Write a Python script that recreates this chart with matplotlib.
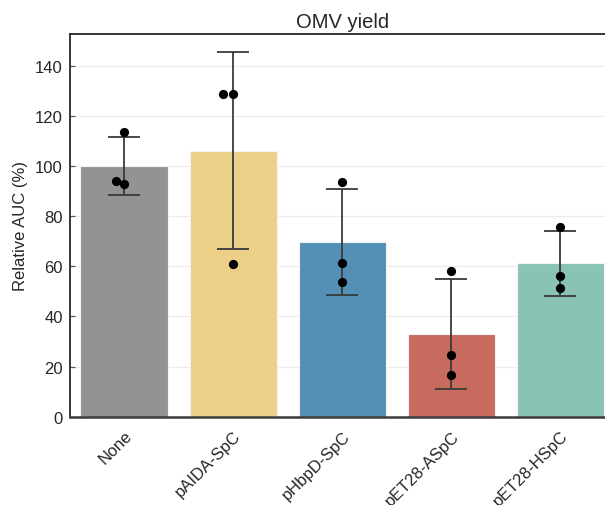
import numpy as np
import matplotlib
matplotlib.use("Agg")
import matplotlib.pyplot as plt

plt.rcParams['font.family'] = ['Liberation Sans', 'DejaVu Sans']

# per-replicate relative AUC values (%)
strains = ['None', 'pAIDA-SpC', 'pHbpD-SpC', 'pET28-ASpC', 'pET28-HSpC']
rep_none = [113.5, 94.0, 92.8]
rep_paida = [128.8, 128.5, 60.7]
rep_phbpd = [93.7, 61.2, 53.8]
rep_pet28a = [58.0, 24.6, 16.6]
rep_pet28h = [75.7, 56.2, 51.4]
replicates = [rep_none, rep_paida, rep_phbpd, rep_pet28a, rep_pet28h]
# horizontal jitter of the dots (category units)
jitter = [[0.0, -0.075, 0.0], [-0.09, 0.0, 0.0], [0, 0, 0], [0, 0, 0], [0, 0, 0]]

colors = ['#939393', '#ECD087', '#548FB6', '#C66B5E', '#88C3B4']

means = [np.mean(r) for r in replicates]
sds = [np.std(r, ddof=1) for r in replicates]

fig = plt.figure(figsize=(6.05, 5.06), dpi=100)
ax = fig.add_axes([0.115, 0.1745, 0.9015, 0.7563])

x = np.arange(len(strains))
ax.bar(x, means, width=0.8, color=colors, edgecolor='#f4f4f4', linewidth=0.8, zorder=2)
ax.errorbar(x, means, yerr=sds, fmt='none', ecolor='#3a3a3a', elinewidth=1.3,
            capsize=11.5, capthick=1.3, zorder=3)
for i, r in enumerate(replicates):
    ax.scatter(x[i] + np.array(jitter[i]), r, s=44, color='black', zorder=4, linewidths=0)

ax.set_xlim(-0.5, len(strains) - 0.5)
ax.set_ylim(0, 152.6)
ax.set_yticks(np.arange(0, 141, 20))
ax.yaxis.grid(True, color='#ececec', linewidth=0.8, zorder=0)
ax.set_axisbelow(True)

ax.set_xticks(x)
ax.set_xticklabels(strains, rotation=45, ha='right', rotation_mode='anchor')
ax.tick_params(axis='x', length=0, pad=8, labelsize=12, labelcolor='#262626')
ax.tick_params(axis='y', direction='in', length=3.5, width=0.9, color='#555555',
               pad=5, labelsize=12, labelcolor='#262626')

for side in ['left', 'bottom', 'top', 'right']:
    ax.spines[side].set_color('#262626')
    ax.spines[side].set_linewidth(1.3)
ax.spines['bottom'].set_color('#3c3c3c')
ax.spines['bottom'].set_linewidth(1.8)

ax.set_ylabel('Relative AUC (%)', fontsize=12, color='#262626', labelpad=5)
ax.set_title('OMV yield', fontsize=14.5, color='#262626', pad=5)

fig.savefig('out.png', dpi=100)
